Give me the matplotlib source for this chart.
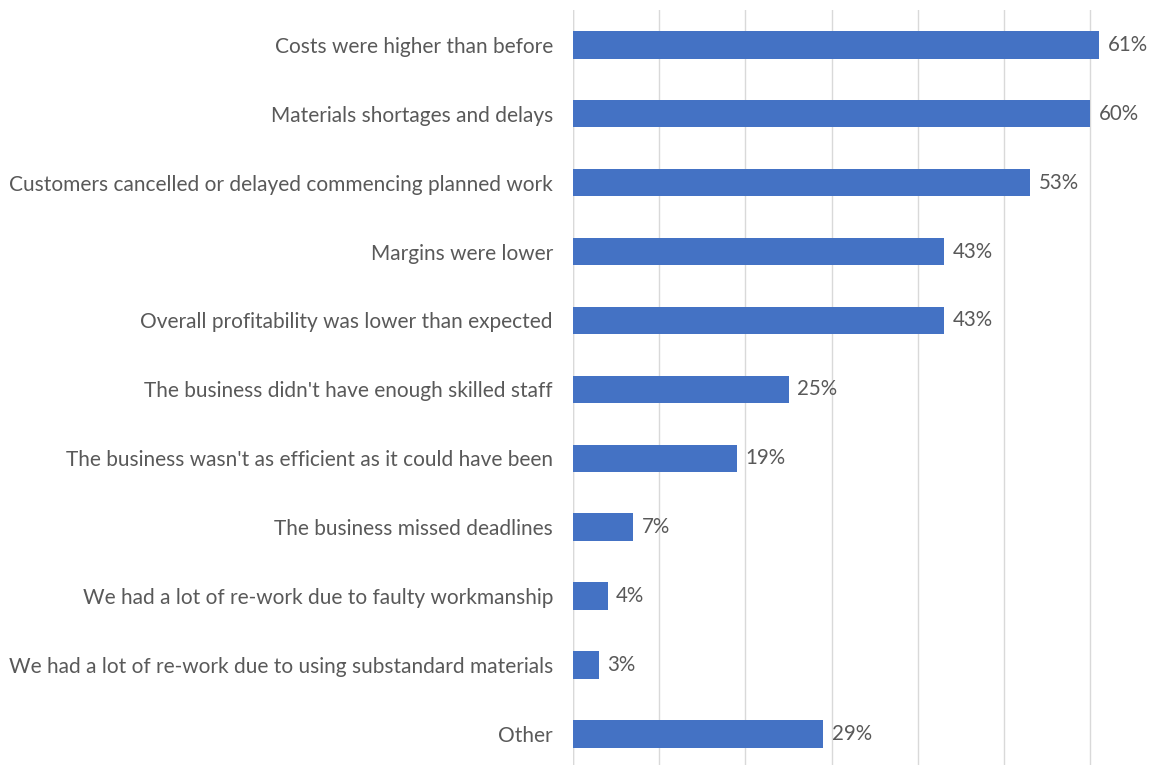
import matplotlib.pyplot as plt
import numpy as np

categories = [
    "Costs were higher than before",
    "Materials shortages and delays",
    "Customers cancelled or delayed commencing planned work",
    "Margins were lower",
    "Overall profitability was lower than expected",
    "The business didn't have enough skilled staff",
    "The business wasn't as efficient as it could have been",
    "The business missed deadlines",
    "We had a lot of re-work due to faulty workmanship",
    "We had a lot of re-work due to using substandard materials",
    "Other",
]
values = [61, 60, 53, 43, 43, 25, 19, 7, 4, 3, 29]
value_labels = ["61%", "60%", "53%", "43%", "43%", "25%", "19%", "7%", "4%", "3%", "29%"]

plt.rcParams['font.family'] = ['Lato', 'DejaVu Sans']

fig = plt.figure(figsize=(11.75, 7.65), dpi=100)
ax = fig.add_axes([0.4877, -0.0045, 0.5135, 0.991])

y = np.arange(len(categories))
ax.barh(y, values, height=0.4, color="#4472C4", zorder=3)
for yi, v, lab in zip(y, values, value_labels):
    ax.text(v + 1.0, yi, lab, va="center", ha="left", fontsize=14.8, color="#595959")

ax.set_yticks(y)
ax.set_yticklabels(categories, fontsize=15, color="#595959")
ax.set_ylim(len(categories) - 0.5, -0.5)
ax.set_xlim(0, 70)
ax.set_xticks(np.arange(0, 71, 10))
ax.xaxis.grid(True, color="#D9D9D9", linewidth=1, zorder=0)
ax.tick_params(axis="x", bottom=False, labelbottom=False)
ax.tick_params(axis="y", length=0, pad=14.5)
for s in ax.spines.values():
    s.set_visible(False)
ax.axvline(0, color="#D9D9D9", linewidth=1, zorder=1)

fig.savefig("out.png", dpi=100)
